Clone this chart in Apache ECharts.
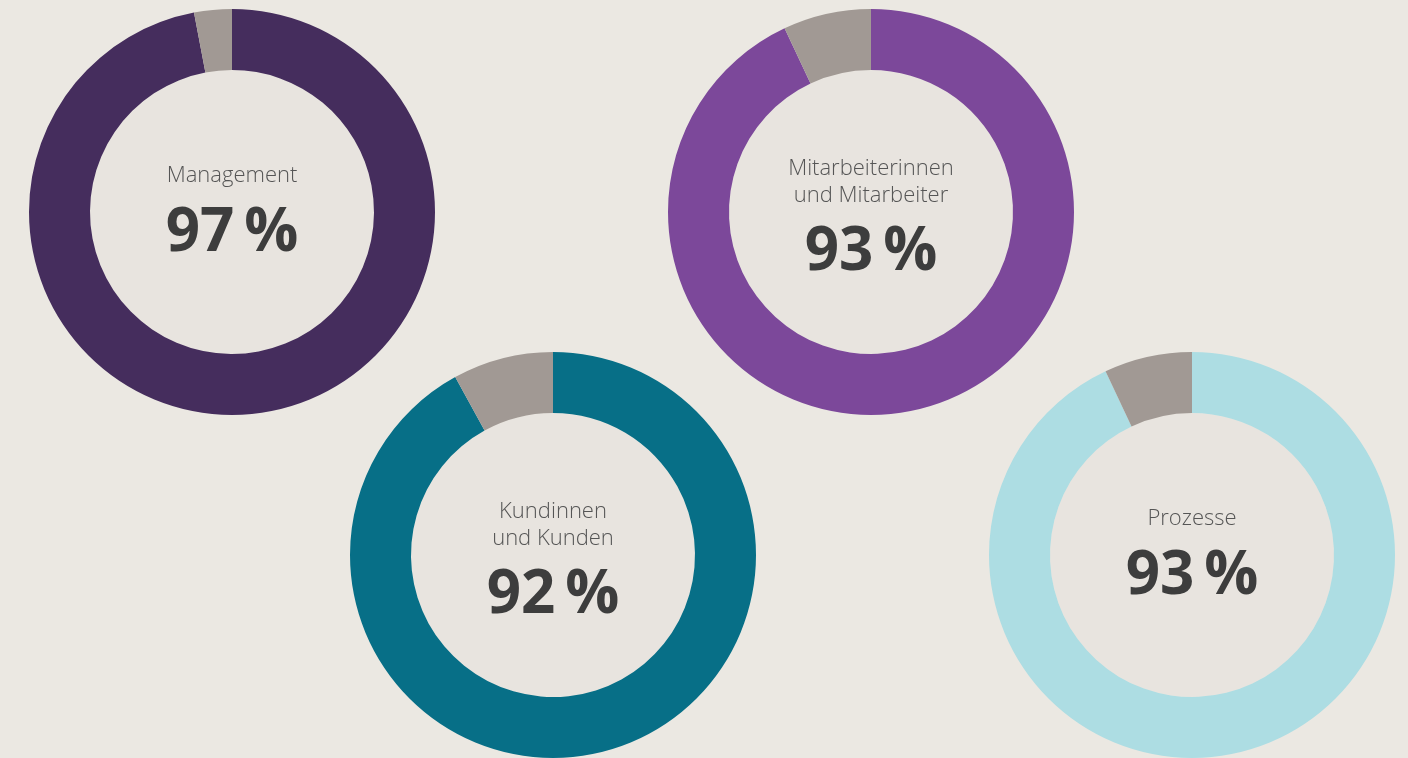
<!DOCTYPE html>
<html lang="de">
<head>
    <meta charset="utf-8">
    <title>Zufriedenheit</title>
    <script src="https://cdn.jsdelivr.net/npm/echarts@6/dist/echarts.min.js"></script>
    <style type="text/css">
        html, body {
            margin: 0;
            padding: 0;
            background: #ebe8e2;
        }

        #main {
            width: 1408px;
            height: 758px;
        }
    </style>
</head>
<body>
<div id="main"></div>
<script type="text/javascript">
    // Werte aus der Grafik
    const labels = ['Management', 'Mitarbeiterinnen\nund Mitarbeiter', 'Kundinnen\nund Kunden', 'Prozesse'];
    const values = [97, 93, 92, 93];
    const colors = ['#452d5d', '#7c489a', '#076f87', '#addde3'];
    const centers = [[232, 212], [871, 212], [553, 555], [1192, 555]];

    const restColor = '#a19994';
    const innerFill = '#e8e4df';

    let series = [];
    for (let i = 0; i < labels.length; i++) {
        // zweizeilige Titel sitzen etwas tiefer
        let shift = labels[i].indexOf('\n') >= 0 ? 14 : 8;
        // Innenfläche
        series.push({
            type: 'pie',
            silent: true,
            center: centers[i],
            radius: [0, 142],
            label: {show: false},
            labelLine: {show: false},
            data: [{value: 1, itemStyle: {color: innerFill}}]
        });
        // Ring
        series.push({
            type: 'pie',
            silent: true,
            center: centers[i],
            radius: [142, 203],
            startAngle: 90,
            clockwise: true,
            avoidLabelOverlap: false,
            label: {show: false},
            labelLine: {show: false},
            emphasis: {disabled: true},
            data: [
                {
                    value: values[i],
                    name: labels[i],
                    itemStyle: {color: colors[i]},
                    label: {
                        show: true,
                        position: 'center',
                        offset: [0, shift],
                        formatter: function (p) {
                            let lines = p.name.split('\n').map(s => '{t|' + s + '}');
                            return lines.join('\n') + '\n{v|' + p.value + '\u2009%}';
                        },
                        rich: {
                            t: {
                                fontFamily: 'Open Sans',
                                fontWeight: 300,
                                fontSize: 22,
                                lineHeight: 27,
                                color: '#555555'
                            },
                            v: {
                                fontFamily: 'Open Sans',
                                fontWeight: 'bold',
                                fontSize: 60,
                                lineHeight: 88,
                                color: '#3d3d3d'
                            }
                        }
                    }
                },
                {value: 100 - values[i], name: 'Rest', itemStyle: {color: restColor}}
            ]
        });
    }

    let chart = echarts.init(document.getElementById('main'));
    chart.setOption({
        backgroundColor: '#ebe8e2',
        animation: false,
        series: series
    });
</script>
</body>
</html>
